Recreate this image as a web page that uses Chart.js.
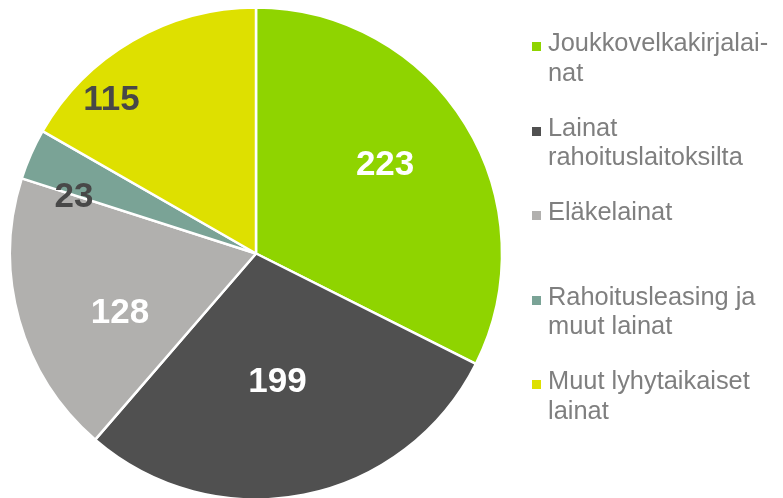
<!DOCTYPE html>
<html>
<head>
<meta charset="utf-8">
<script src="https://cdn.jsdelivr.net/npm/chart.js@4"></script>
<style>
  body { margin: 0; background: #fff; }
  #wrap { position: relative; width: 783px; height: 498px; }
  #legend { position: absolute; left: 0; top: 0; font-family: "Liberation Sans", Arial, sans-serif; font-size: 25.4px; line-height: 29.5px; color: #7f7f7f; }
  .item { position: absolute; left: 548px; white-space: nowrap; }
  .box { position: absolute; left: -16px; top: 14px; width: 9px; height: 9px; }
</style>
</head>
<body>
<div id="wrap">
  <canvas id="myChart"></canvas>
  <div id="legend"></div>
</div>
<script>
const labels = ['Joukkovelkakirjalainat', 'Lainat rahoituslaitoksilta', 'Eläkelainat', 'Rahoitusleasing ja muut lainat', 'Muut lyhytaikaiset lainat'];
const legendLines = [['Joukkovelkakirjalai-', 'nat'], ['Lainat', 'rahoituslaitoksilta'], ['Eläkelainat'], ['Rahoitusleasing ja', 'muut lainat'], ['Muut lyhytaikaiset', 'lainat']];
const values = [223, 199, 128, 23, 115];
const colors = ['#8fd400', '#505050', '#b1b0ae', '#7aa396', '#dee000'];
const labelColors = ['#ffffff', '#ffffff', '#ffffff', '#484848', '#484848'];
// label placement: fraction of radius, angle shift in degrees
const labelPlace = [[0.644, -3.1], [0.531, 1.7], [0.607, -7.7], [0.781, -6.5], [0.865, -13.1]];

const legend = document.getElementById('legend');
legendLines.forEach((lines, i) => {
  const div = document.createElement('div');
  div.className = 'item';
  div.style.top = (52 - 23.6 + 84.5 * i) + 'px';
  div.innerHTML = '<span class="box" style="background:' + colors[i] + '"></span>' + lines.join('<br>');
  legend.appendChild(div);
});

const sliceLabels = {
  id: 'sliceLabels',
  afterDatasetsDraw(chart) {
    const ctx = chart.ctx;
    const meta = chart.getDatasetMeta(0);
    ctx.save();
    ctx.font = 'bold 35px "Liberation Sans", Arial, sans-serif';
    ctx.textAlign = 'center';
    ctx.textBaseline = 'middle';
    meta.data.forEach((arc, i) => {
      const p = labelPlace[i];
      const mid = (arc.startAngle + arc.endAngle) / 2 + p[1] * Math.PI / 180;
      const r = 244 * p[0];
      ctx.fillStyle = labelColors[i];
      ctx.fillText(String(values[i]), arc.x + Math.cos(mid) * r, arc.y + Math.sin(mid) * r + 1);
    });
    ctx.restore();
  }
};

const ctx = document.getElementById('myChart').getContext('2d');
const chart = new Chart(ctx, {
  type: 'pie',
  data: {
    labels: labels,
    datasets: [{
      data: values,
      backgroundColor: colors,
      borderColor: '#ffffff',
      borderWidth: 2.5,
      radius: 246
    }]
  },
  options: {
    responsive: true,
    maintainAspectRatio: false,
    animation: false,
    layout: { padding: { left: 11.5, right: 282.5, top: 9, bottom: 0 } },
    plugins: {
      legend: { display: false },
      tooltip: { enabled: false }
    }
  },
  plugins: [sliceLabels]
});
</script>
</body>
</html>
